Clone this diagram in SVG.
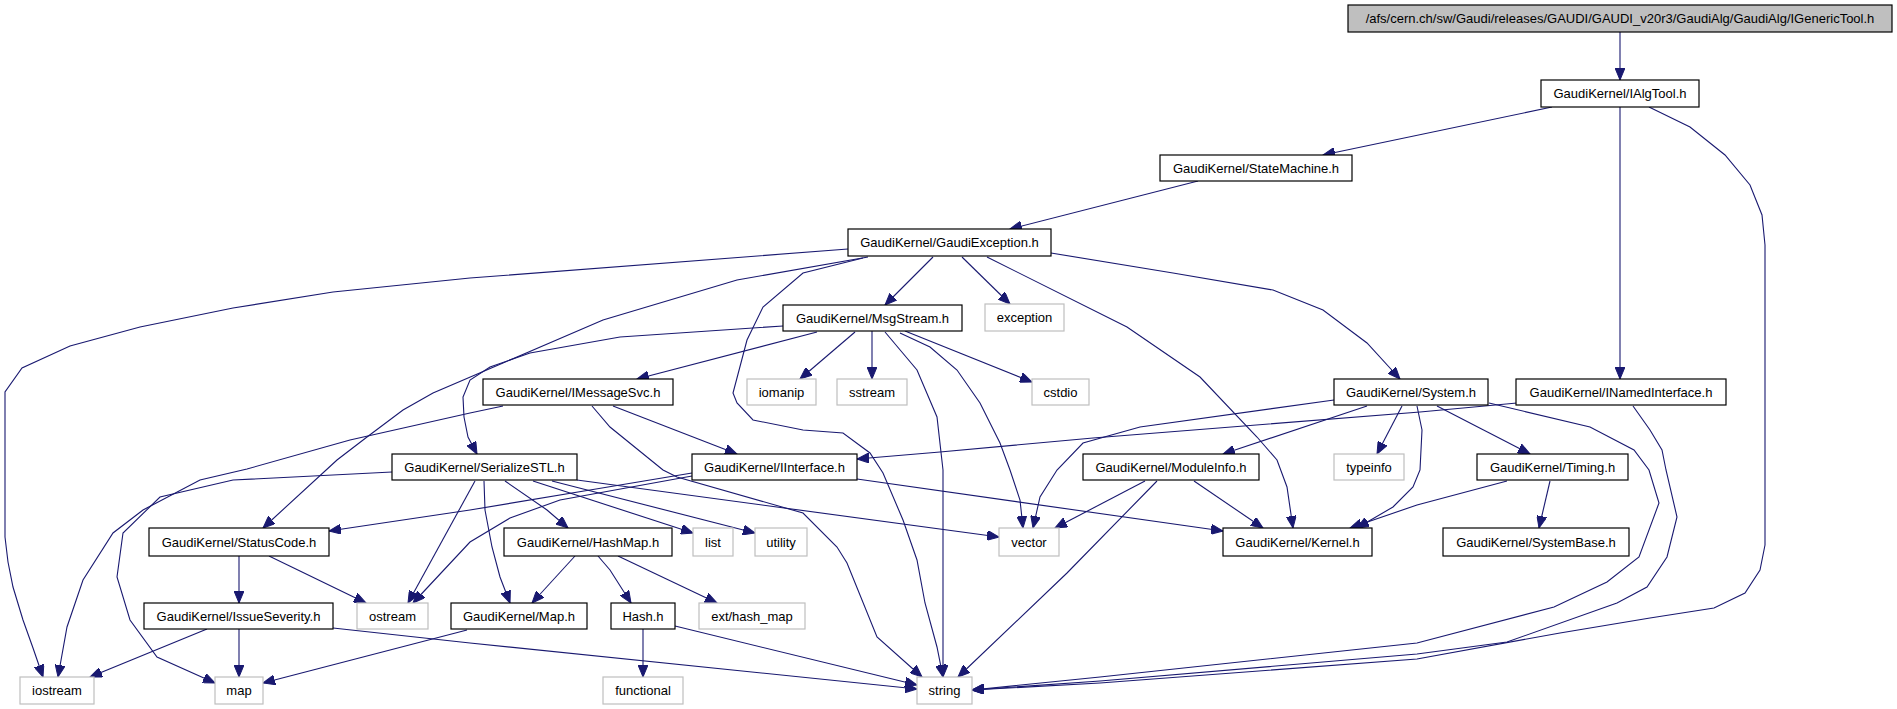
<svg xmlns="http://www.w3.org/2000/svg" width="1897" height="709" viewBox="0 0 1897 709">
<style>
.n rect{fill:#fff;stroke:#000;stroke-width:1.2}
.s rect{fill:#fff;stroke:#bfbfbf;stroke-width:1.2}
#root rect{fill:#bfbfbf;stroke:#000;stroke-width:1.2}
text{font-family:"Liberation Sans",Arial,sans-serif;font-size:13px;text-anchor:middle;fill:#000}
#edges path{fill:none;stroke:#191970;stroke-width:1.1;marker-end:url(#a)}
</style>
<defs>
<marker id="a" markerUnits="userSpaceOnUse" markerWidth="13" markerHeight="10" refX="12" refY="5" orient="auto" viewBox="0 0 13 10">
<path d="M0,0 L12,5 L0,10 z" fill="#191970" stroke="#191970"/>
</marker>
</defs>
<rect width="1897" height="709" fill="#fff"/>
<g id="edges">
<path d="M1620,32 L1620,80"/>
<path d="M1552,107 L1323,155"/>
<path d="M1620,107 L1620,379"/>
<path d="M1649,107 L1690,127 L1725,155 L1750,185 L1762,215 L1765,245 L1765,545 L1760,570 L1745,593 L1714,608 L1650,618 L1560,633 L1417,659 L1100,683 L972,690"/>
<path d="M1633,406 L1650,430 L1662,450 L1666,470 L1677,517 L1667,557 L1647,587 L1617,603 L1507,642 L1417,654 L1100,681 L972,690"/>
<path d="M1489,403 L1590,427 L1634,450 L1649,470 L1659,503 L1639,557 L1607,582 L1554,607 L1417,643 L1100,677 L972,690"/>
<path d="M1198,181 L1010,229"/>
<path d="M848,249 L470,278 L333,292 L233,308 L140,327 L70,346 L22,368 L5,392 L5,537 L8,562 L13,587 L23,620 L33,648 L43,677"/>
<path d="M868,257 L737,280 L603,320 L503,363 L433,393 L403,410 L367,437 L337,460 L263,528"/>
<path d="M933,257 L885,305"/>
<path d="M962,257 L1010,304"/>
<path d="M863,258 L803,273 L763,307 L747,340 L733,393 L737,403 L753,420 L803,430 L843,433 L870,453 L883,473 L903,520 L917,560 L925,603 L937,647 L943,677"/>
<path d="M987,257 L1127,327 L1200,377 L1257,437 L1277,460 L1287,487 L1293,528"/>
<path d="M1051,253 L1173,273 L1273,290 L1323,310 L1367,343 L1400,379"/>
<path d="M783,326 L620,337 L530,353 L490,367 L470,380 L463,397 L464,417 L468,437 L477,454"/>
<path d="M817,332 L637,379"/>
<path d="M855,332 L800,379"/>
<path d="M872,331 L872,379"/>
<path d="M885,332 L917,370 L937,417 L943,470 L943,677"/>
<path d="M900,333 L930,347 L957,370 L980,403 L1000,443 L1010,470 L1020,500 L1023,528"/>
<path d="M905,331 L1032,382"/>
<path d="M503,406 L470,413 L350,440 L247,469 L200,480 L143,510 L113,533 L83,580 L67,627 L58,677"/>
<path d="M613,406 L737,454"/>
<path d="M592,406 L610,427 L663,470 L677,477 L803,513 L837,547 L847,563 L877,637 L922,677"/>
<path d="M392,472 L233,480 L160,497 L123,533 L117,577 L130,620 L157,657 L215,683"/>
<path d="M475,481 L408,603"/>
<path d="M484,481 L485,510 L492,547 L500,577 L510,603"/>
<path d="M505,481 L547,510 L568,528"/>
<path d="M533,481 L693,533"/>
<path d="M552,481 L755,533"/>
<path d="M577,480 L999,537"/>
<path d="M692,473 L590,490 L470,510 L329,531"/>
<path d="M692,476 L560,500 L510,518 L470,542 L413,603"/>
<path d="M857,479 L1223,531"/>
<path d="M1517,403 L1420,412 L1093,438 L940,452 L857,459"/>
<path d="M1334,400 L1140,427 L1083,443 L1057,470 L1040,497 L1033,528"/>
<path d="M1367,406 L1223,454"/>
<path d="M1402,406 L1377,454"/>
<path d="M1417,406 L1422,430 L1420,470 L1413,487 L1393,507 L1357,528"/>
<path d="M1437,406 L1530,454"/>
<path d="M1145,481 L1055,528"/>
<path d="M1157,481 L1067,573 L958,677"/>
<path d="M1194,481 L1263,528"/>
<path d="M1507,481 L1417,505 L1350,528"/>
<path d="M1550,481 L1539,528"/>
<path d="M239,556 L239,603"/>
<path d="M269,556 L366,603"/>
<path d="M207,629 L90,677"/>
<path d="M239,629 L239,677"/>
<path d="M333,628 L470,643 L917,689"/>
<path d="M467,630 L263,683"/>
<path d="M575,556 L532,603"/>
<path d="M598,556 L610,570 L631,603"/>
<path d="M618,556 L717,603"/>
<path d="M643,629 L643,677"/>
<path d="M675,626 L917,685"/>
</g>
<g id="root"><rect x="1348" y="5" width="544" height="27"/><text x="1620" y="23">/afs/cern.ch/sw/Gaudi/releases/GAUDI/GAUDI_v20r3/GaudiAlg/GaudiAlg/IGenericTool.h</text></g>
<g id="IAlgTool" class="n"><rect x="1541" y="80" width="158" height="27"/><text x="1620" y="98">GaudiKernel/IAlgTool.h</text></g>
<g id="StateMachine" class="n"><rect x="1160" y="155" width="192" height="26"/><text x="1256" y="172.5">GaudiKernel/StateMachine.h</text></g>
<g id="GaudiException" class="n"><rect x="848" y="229" width="203" height="27"/><text x="949.5" y="247">GaudiKernel/GaudiException.h</text></g>
<g id="MsgStream" class="n"><rect x="783" y="305" width="179" height="26"/><text x="872.5" y="322.5">GaudiKernel/MsgStream.h</text></g>
<g id="exception" class="s"><rect x="985" y="304" width="79" height="27"/><text x="1024.5" y="322">exception</text></g>
<g id="IMessageSvc" class="n"><rect x="483" y="379" width="190" height="26"/><text x="578" y="396.5">GaudiKernel/IMessageSvc.h</text></g>
<g id="iomanip" class="s"><rect x="747" y="379" width="69" height="26"/><text x="781.5" y="396.5">iomanip</text></g>
<g id="sstream" class="s"><rect x="837" y="379" width="70" height="26"/><text x="872" y="396.5">sstream</text></g>
<g id="cstdio" class="s"><rect x="1032" y="379" width="57" height="26"/><text x="1060.5" y="396.5">cstdio</text></g>
<g id="System" class="n"><rect x="1334" y="379" width="154" height="26"/><text x="1411" y="396.5">GaudiKernel/System.h</text></g>
<g id="INamedInterface" class="n"><rect x="1516" y="379" width="210" height="26"/><text x="1621" y="396.5">GaudiKernel/INamedInterface.h</text></g>
<g id="SerializeSTL" class="n"><rect x="392" y="454" width="185" height="26"/><text x="484.5" y="471.5">GaudiKernel/SerializeSTL.h</text></g>
<g id="IInterface" class="n"><rect x="692" y="454" width="165" height="26"/><text x="774.5" y="471.5">GaudiKernel/IInterface.h</text></g>
<g id="ModuleInfo" class="n"><rect x="1083" y="454" width="176" height="26"/><text x="1171" y="471.5">GaudiKernel/ModuleInfo.h</text></g>
<g id="typeinfo" class="s"><rect x="1334" y="454" width="70" height="26"/><text x="1369" y="471.5">typeinfo</text></g>
<g id="Timing" class="n"><rect x="1477" y="454" width="151" height="26"/><text x="1552.5" y="471.5">GaudiKernel/Timing.h</text></g>
<g id="StatusCode" class="n"><rect x="149" y="528" width="180" height="28"/><text x="239" y="546.5">GaudiKernel/StatusCode.h</text></g>
<g id="HashMap" class="n"><rect x="504" y="528" width="168" height="28"/><text x="588" y="546.5">GaudiKernel/HashMap.h</text></g>
<g id="list" class="s"><rect x="693" y="528" width="40" height="28"/><text x="713" y="546.5">list</text></g>
<g id="utility" class="s"><rect x="755" y="528" width="52" height="28"/><text x="781" y="546.5">utility</text></g>
<g id="vector" class="s"><rect x="999" y="528" width="60" height="28"/><text x="1029" y="546.5">vector</text></g>
<g id="Kernel" class="n"><rect x="1223" y="528" width="149" height="28"/><text x="1297.5" y="546.5">GaudiKernel/Kernel.h</text></g>
<g id="SystemBase" class="n"><rect x="1443" y="528" width="186" height="28"/><text x="1536" y="546.5">GaudiKernel/SystemBase.h</text></g>
<g id="IssueSeverity" class="n"><rect x="144" y="603" width="189" height="26"/><text x="238.5" y="620.5">GaudiKernel/IssueSeverity.h</text></g>
<g id="ostream" class="s"><rect x="357" y="603" width="71" height="26"/><text x="392.5" y="620.5">ostream</text></g>
<g id="Map" class="n"><rect x="451" y="603" width="136" height="26"/><text x="519" y="620.5">GaudiKernel/Map.h</text></g>
<g id="Hash" class="n"><rect x="611" y="603" width="64" height="26"/><text x="643" y="620.5">Hash.h</text></g>
<g id="ext_hash_map" class="s"><rect x="699" y="603" width="106" height="26"/><text x="752" y="620.5">ext/hash_map</text></g>
<g id="iostream" class="s"><rect x="20" y="677" width="74" height="27"/><text x="57" y="695">iostream</text></g>
<g id="map" class="s"><rect x="215" y="677" width="48" height="27"/><text x="239" y="695">map</text></g>
<g id="functional" class="s"><rect x="603" y="677" width="80" height="27"/><text x="643" y="695">functional</text></g>
<g id="string" class="s"><rect x="917" y="677" width="55" height="27"/><text x="944.5" y="695">string</text></g>
</svg>
